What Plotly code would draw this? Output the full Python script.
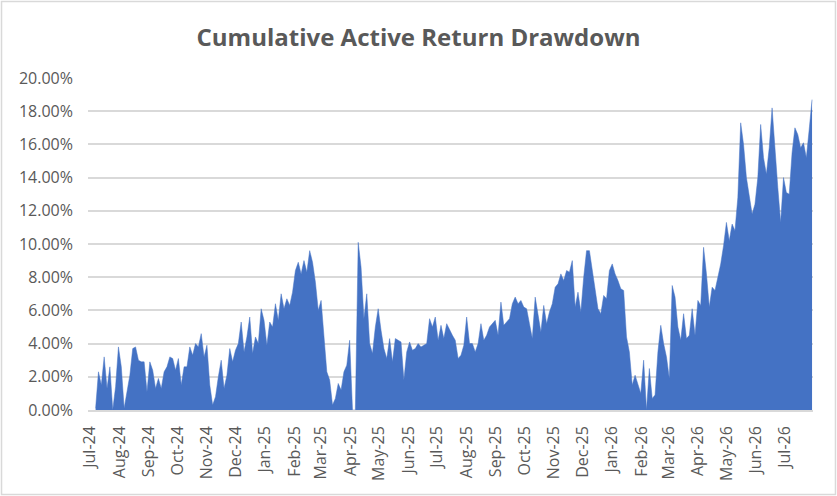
import pandas as pd
import plotly.graph_objects as go

# drawdown readings (in %), one every 3 calendar days from the first date
start_date = "2024-07-07"
step = "3D"

dd_2024 = [0.1, 2.3, 1.5, 3.2, 1.3, 2.6, 0.0, 1.4, 3.8, 2.6,
           0.1, 1.1, 2.1, 3.7, 3.8, 3.0, 2.9, 2.9, 1.1, 2.9,
           2.4, 1.3, 1.9, 1.3, 2.3, 2.6, 3.2, 3.1, 2.4, 3.1,
           1.5, 2.6, 2.6, 3.8, 3.3, 4.0, 3.8, 4.6, 3.2, 3.9,
           1.5, 0.3, 0.8, 2.0, 3.0, 1.3, 2.1, 3.7, 2.9, 3.6,
           4.0, 5.3, 3.5, 4.4, 5.6, 3.4, 4.4, 4.0, 6.1, 5.4]
dd_2025a = [3.9, 5.3, 5.0, 6.4, 5.4, 7.0, 6.1, 6.7, 6.3, 7.1,
            8.4, 8.9, 8.2, 9.0, 8.3, 9.6, 8.9, 7.7, 6.0, 6.6,
            4.3, 2.3, 1.8, 0.3, 0.7, 1.6, 1.2, 2.3, 2.7, 4.2,
            0.0, 0.0, 10.1, 8.6, 5.5, 7.0, 4.0, 3.4, 5.0, 6.1,
            4.8, 3.7, 3.1, 4.3, 2.9, 4.3, 4.2, 4.1, 1.8, 3.5,
            4.1, 3.6, 3.7, 4.0, 3.8, 3.9, 4.0, 5.5, 5.0, 5.6]
dd_2025b = [4.2, 5.1, 4.3, 5.2, 4.8, 4.5, 4.2, 3.1, 3.3, 3.9,
            5.6, 4.0, 4.0, 3.5, 4.0, 5.2, 4.2, 4.5, 5.0, 5.2,
            5.4, 4.5, 6.5, 5.1, 5.3, 5.5, 6.4, 6.8, 6.4, 6.6,
            6.2, 6.1, 5.2, 4.3, 6.8, 5.8, 4.7, 6.3, 5.2, 5.9,
            6.4, 7.4, 7.6, 8.2, 7.8, 8.4, 8.3, 9.0, 6.2, 7.1,
            5.9, 8.0, 9.6, 9.6, 8.4, 7.5, 6.1, 5.8, 6.9, 6.7,
            8.4]
dd_2026 = [8.8, 8.2, 7.8, 7.3, 7.2, 4.4, 3.5, 1.5, 2.1, 1.6,
           1.0, 3.0, 0.0, 2.5, 0.7, 0.9, 3.5, 5.1, 4.0, 3.2,
           1.9, 7.5, 6.8, 5.0, 4.2, 5.8, 4.3, 4.5, 6.1, 4.5,
           6.6, 6.3, 9.8, 8.2, 6.2, 7.4, 7.2, 8.0, 8.8, 9.9,
           11.3, 10.2, 11.2, 10.8, 12.8, 17.3, 16.0, 14.0, 13.0, 11.8,
           12.4, 14.0, 17.2, 15.2, 14.2, 15.8, 18.2, 15.6, 13.4, 11.3,
           14.0, 13.1, 13.0, 15.5, 17.0, 16.6, 15.8, 16.1, 15.2, 16.9,
           18.7]

drawdown = dd_2024 + dd_2025a + dd_2025b + dd_2026
dates = pd.date_range(start_date, periods=len(drawdown), freq=step)

grey = "#595959"
grid = "#D9D9D9"
blue = "#4472C4"

fig = go.Figure()
fig.add_trace(go.Scatter(
    x=dates,
    y=[v / 100 for v in drawdown],
    mode="lines",
    fill="tozeroy",
    fillcolor=blue,
    line=dict(color=blue, width=0.5),
    showlegend=False,
))

fig.update_layout(
    width=837, height=496,
    margin=dict(l=88, r=24, t=78, b=86),
    paper_bgcolor="white", plot_bgcolor="white",
    font=dict(family="Open Sans", size=16, color=grey),
    title=dict(text="Cumulative Active Return Drawdown",
               font=dict(family="Open Sans", size=24, color=grey, weight="bold"),
               x=0.5, xanchor="center", xref="container",
               y=0.925, yanchor="middle", yref="container"),
)

fig.update_xaxes(
    type="date",
    range=["2024-06-29", "2026-07-31"],
    tick0="2024-07-01", dtick="M1",
    tickformat="%b-%y", tickangle=-90,
    showgrid=False, zeroline=False,
    showline=True, linecolor=grid, linewidth=1.5,
    ticks="", ticklabelstandoff=8,
)
fig.update_yaxes(
    range=[0, 0.2], dtick=0.02, tickformat=".2%",
    showgrid=True, gridcolor=grid, gridwidth=1.5,
    zeroline=False, showline=False,
    ticks="", ticklabelstandoff=14,
)

# light chart-area border
fig.add_shape(type="rect", xref="paper", yref="paper",
              x0=-0.1193, x1=1.031, y0=-0.2545, y1=1.2304,
              line=dict(color=grid, width=1.5), layer="below")

# drop the browser's default 8px body margin so the figure sits at the page corner
fig.write_html("out.html", config={"displayModeBar": False},
               post_script="document.body.style.margin='0';")
